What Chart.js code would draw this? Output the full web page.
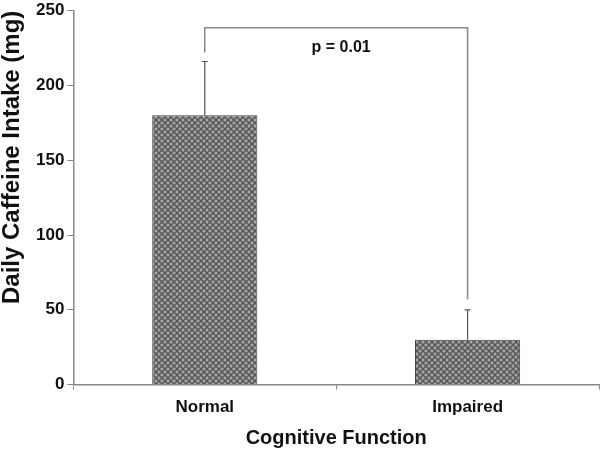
<!DOCTYPE html>
<html>
<head>
<meta charset="utf-8">
<script src="https://cdn.jsdelivr.net/npm/chart.js@4/dist/chart.umd.min.js"></script>
<style>
  html, body { margin: 0; padding: 0; background: #fff; }
  #wrap { width: 600px; height: 450px; }
</style>
</head>
<body>
<div id="wrap"><canvas id="chart"></canvas></div>
<script>
  // values
  const categories = ['Normal', 'Impaired'];
  const meanIntake = [180, 30];
  const errorUp = [36, 20];
  const yMin = 0, yMax = 250, yStep = 50;
  // significance bracket (in data units)
  const pLabel = 'p = 0.01';
  const bracketTop = 238.5;
  const bracketEnds = [222, 57];
  const pLabelValue = 225;

  function hatch() {//crosshatch fill like the original bars
    let c = document.createElement('canvas');
    c.width = 6; c.height = 6;
    let g = c.getContext('2d');
    g.fillStyle = '#a4a4a4';
    g.fillRect(0, 0, 6, 6);
    g.strokeStyle = '#555';
    g.lineWidth = 1.4;
    g.beginPath();
    g.moveTo(0, 0); g.lineTo(6, 6);
    g.moveTo(6, 0); g.lineTo(0, 6);
    g.moveTo(-3, 3); g.lineTo(3, 9);
    g.moveTo(3, -3); g.lineTo(9, 3);
    g.moveTo(3, -3); g.lineTo(-3, 3);
    g.moveTo(9, 3); g.lineTo(3, 9);
    g.stroke();
    return g.createPattern(c, 'repeat');
  }

  const extras = {
    id: 'extras',
    afterDatasetsDraw(chart) {
      let ctx = chart.ctx;
      let y = chart.scales.y;
      let meta = chart.getDatasetMeta(0);
      ctx.save();
      // upper error whiskers
      ctx.strokeStyle = '#555';
      ctx.lineWidth = 1.2;
      for (let i = 0; i < meanIntake.length; i++) {
        let bx = meta.data[i].x;
        let top = y.getPixelForValue(meanIntake[i] + errorUp[i]);
        ctx.beginPath();
        ctx.moveTo(bx, y.getPixelForValue(meanIntake[i]));
        ctx.lineTo(bx, top);
        ctx.moveTo(bx - 3, top);
        ctx.lineTo(bx + 3, top);
        ctx.stroke();
      }
      // bracket
      let x0 = meta.data[0].x, x1 = meta.data[1].x;
      let yt = y.getPixelForValue(bracketTop);
      ctx.strokeStyle = '#888';
      ctx.lineWidth = 1.5;
      ctx.beginPath();
      ctx.moveTo(x0, y.getPixelForValue(bracketEnds[0]));
      ctx.lineTo(x0, yt);
      ctx.lineTo(x1, yt);
      ctx.lineTo(x1, y.getPixelForValue(bracketEnds[1]));
      ctx.stroke();
      ctx.fillStyle = '#111';
      ctx.font = 'bold 16px "Liberation Sans", Arial, sans-serif';
      ctx.textAlign = 'center';
      ctx.textBaseline = 'middle';
      ctx.fillText(pLabel, (x0 + x1) / 2 + 5, y.getPixelForValue(pLabelValue));
      ctx.restore();
    }
  };

  const font = '"Liberation Sans", Arial, sans-serif';
  new Chart(document.getElementById('chart'), {
    type: 'bar',
    data: {
      labels: categories,
      datasets: [{
        data: meanIntake,
        backgroundColor: hatch(),
        borderColor: '#444',
        borderWidth: 1,
        borderSkipped: 'bottom',
        categoryPercentage: 1,
        barPercentage: 0.4
      }]
    },
    options: {
      responsive: true,
      maintainAspectRatio: false,
      animation: false,
      layout: { padding: { top: 0, right: 1, left: 0, bottom: 0 } },
      plugins: { legend: { display: false }, tooltip: { enabled: false } },
      scales: {
        x: {
          grid: { drawOnChartArea: false, drawTicks: true, tickLength: 5, color: '#888' },
          border: { color: '#888', width: 1.5 },
          ticks: { color: '#111', padding: 8, font: { family: font, size: 17, weight: 'bold' } },
          title: {
            display: true, text: 'Cognitive Function', color: '#111',
            padding: { top: 0, bottom: 0 },
            font: { family: font, size: 20, weight: 'bold', lineHeight: 1.2 }
          }
        },
        y: {
          min: yMin, max: yMax,
          grid: { drawOnChartArea: false, drawTicks: true, tickLength: 6, color: '#888' },
          border: { color: '#888', width: 1.5 },
          ticks: { stepSize: yStep, color: '#111', padding: 3, font: { family: font, size: 17, weight: 'bold', lineHeight: 0.9 } },
          title: {
            display: true, text: 'Daily Caffeine Intake (mg)', color: '#111',
            align: 'end',
            padding: { top: 0, bottom: 9 },
            font: { family: font, size: 24, weight: 'bold', lineHeight: 1 }
          }
        }
      }
    },
    plugins: [extras]
  });
</script>
</body>
</html>
